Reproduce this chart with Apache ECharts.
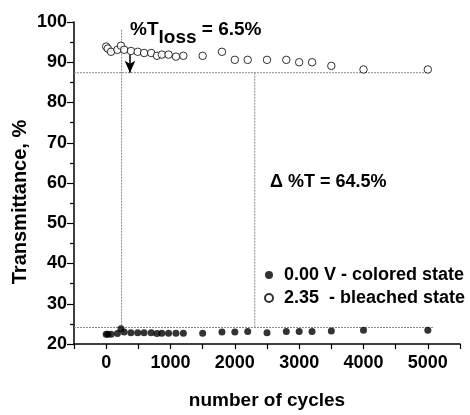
<!DOCTYPE html>
<html><head><meta charset="utf-8">
<script src="https://cdn.jsdelivr.net/npm/echarts@6/dist/echarts.min.js"></script>
<style>html,body{margin:0;padding:0;background:#fff}#c{width:470px;height:415px}</style>
</head><body><div id="c"></div>
<script>
// ---- data ----
var cycles = [0, 25, 75, 175, 230, 280, 385, 490, 590, 700, 790, 865, 970, 1085, 1200, 1500, 1800, 2000, 2200, 2500, 2800, 3000, 3200, 3500, 4000, 5000];
var bleachedT = [93.9, 93.4, 92.6, 93.1, 94.1, 93.1, 92.8, 92.6, 92.3, 92.3, 91.6, 91.9, 91.9, 91.4, 91.6, 91.6, 92.6, 90.6, 90.6, 90.6, 90.6, 90.0, 90.0, 89.1, 88.2, 88.2];
var coloredT = [22.4, 22.4, 22.4, 22.6, 23.8, 23.0, 22.8, 22.8, 22.8, 22.8, 22.6, 22.7, 22.7, 22.7, 22.7, 22.7, 23.0, 23.0, 23.1, 22.8, 23.1, 23.1, 23.1, 23.2, 23.4, 23.4];
var seriesNames = ['0.00 V - colored state', '2.35  - bleached state'];
var xTicks = [0, 1000, 2000, 3000, 4000, 5000];
var yTicks = [20, 30, 40, 50, 60, 70, 80, 90, 100];
// guide lines (reference levels)
var upperLevel = 87.4, lowerLevel = 24.1;
var guideUpper = [[-500, upperLevel], [5000, upperLevel]];
var guideLower = [[-500, lowerLevel], [5080, lowerLevel]];
var guideV1 = [[240, 98.1], [240, lowerLevel]];
var guideV2 = [[2310, upperLevel], [2310, lowerLevel]];
var arrowFrom = [370, 91.8], arrowTo = [370, upperLevel];

var F = '"Liberation Sans", Arial, Helvetica, sans-serif';
var chart = echarts.init(document.getElementById('c'));
var guideStyle = {color: '#8a8a8a', width: 1, type: [2, 1]};
function guide(d) {
  return {type: 'line', data: d, symbol: 'none', silent: true, lineStyle: guideStyle, z: 1, animation: false};
}
chart.setOption({
  animation: false,
  grid: {left: 74, right: 10, top: 22, bottom: 61},
  xAxis: {
    type: 'value', min: -500, max: 5500, interval: 500,
    splitLine: {show: false},
    axisLine: {onZero: false, lineStyle: {color: '#000', width: 1.5}},
    axisTick: {length: 5, lineStyle: {color: '#000', width: 1.2}},
    axisLabel: {
      color: '#000', fontFamily: F, fontWeight: 'bold', fontSize: 18, margin: 10,
      formatter: function (v) { return xTicks.indexOf(v) >= 0 ? String(v) : ''; }
    },
    name: 'number of cycles', nameLocation: 'middle', nameGap: 47,
    nameTextStyle: {color: '#000', fontFamily: F, fontWeight: 'bold', fontSize: 19}
  },
  yAxis: {
    type: 'value', min: 20, max: 100, interval: 10,
    splitLine: {show: false},
    axisLine: {onZero: false, lineStyle: {color: '#000', width: 1.5}},
    axisTick: {length: 7, lineStyle: {color: '#000', width: 1.2}},
    minorTick: {show: true, splitNumber: 2, length: 4, lineStyle: {color: '#000', width: 1.2}},
    axisLabel: {
      color: '#000', fontFamily: F, fontWeight: 'bold', fontSize: 18, margin: 7,
      formatter: function (v) { return yTicks.indexOf(v) >= 0 ? String(v) : ''; }
    }
  },
  legend: {
    orient: 'vertical', left: 259, top: 261, itemGap: 5, itemWidth: 8, itemHeight: 8,
    icon: 'circle',
    textStyle: {color: '#000', fontFamily: F, fontWeight: 'bold', fontSize: 18, padding: [0, 0, 0, 6]},
    data: seriesNames
  },
  series: [
    guide(guideUpper), guide(guideLower), guide(guideV1), guide(guideV2),
    {
      name: seriesNames[0], type: 'scatter', symbol: 'circle', symbolSize: 7, z: 3,
      itemStyle: {color: '#000'},
      data: cycles.map(function (c, i) { return [c, coloredT[i]]; })
    },
    {
      name: seriesNames[1], type: 'scatter', symbol: 'circle', symbolSize: 7.5, z: 3,
      itemStyle: {color: '#fff', borderColor: '#000', borderWidth: 1},
      data: cycles.map(function (c, i) { return [c, bleachedT[i]]; }),
      markLine: {
        silent: true, symbol: ['none', 'arrow'], symbolSize: [8, 12], label: {show: false},
        lineStyle: {color: '#000', width: 1.5, type: 'solid'},
        data: [[{coord: arrowFrom}, {coord: arrowTo}]]
      }
    }
  ],
  graphic: [
    {type: 'text', x: 20, y: 202, rotation: Math.PI / 2, style: {
      text: 'Transmittance, %', fontFamily: F, fontWeight: 'bold', fontSize: 20, fill: '#000',
      align: 'center', verticalAlign: 'middle'
    }},
    {type: 'text', left: 130, top: 20, style: {
      rich: {
        a: {fontFamily: F, fontWeight: 'bold', fontSize: 19, fill: '#000', verticalAlign: 'top'},
        s: {fontFamily: F, fontWeight: 'bold', fontSize: 19, fill: '#000', padding: [8, 0, 0, 0]}
      },
      text: '{a|%T}{s|loss}{a| = 6.5%}'
    }},
    {type: 'text', left: 270, top: 173, style: {
      text: 'Δ %T = 64.5%', fontFamily: F, fontWeight: 'bold', fontSize: 18, fill: '#000'
    }}
  ]
});
</script></body></html>
